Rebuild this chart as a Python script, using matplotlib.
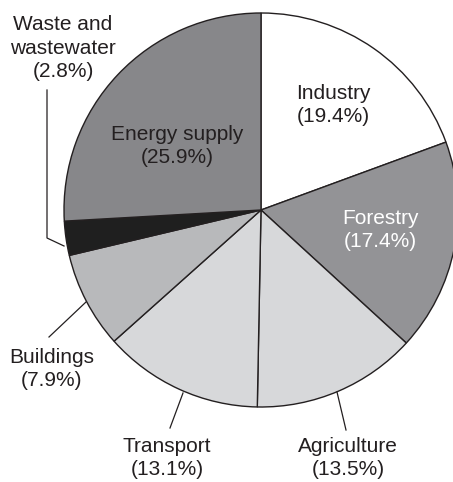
import matplotlib
matplotlib.use("Agg")
import matplotlib.pyplot as plt

categories = ["Industry", "Forestry", "Agriculture", "Transport", "Buildings",
              "Waste and\nwastewater", "Energy supply"]
shares = [19.4, 17.4, 13.5, 13.1, 7.9, 2.8, 25.9]
colors = ["#ffffff", "#939396", "#d7d8da", "#d7d8da", "#b8b9bb", "#1f1f1f", "#87878a"]

W, H = 453, 482
fig = plt.figure(figsize=(W / 100, H / 100), dpi=100)
ax = fig.add_axes([0, 0, 1, 1])
ax.set_xlim(0, W)
ax.set_ylim(0, H)
ax.set_aspect("equal")
ax.axis("off")

def Y(y):
    return H - y

cx, cy, r = 261, Y(210), 197
ax.pie(shares, colors=colors, startangle=90, counterclock=False,
       center=(cx, cy), radius=r,
       wedgeprops=dict(edgecolor="#231f20", linewidth=1.0))
ax.set_xlim(0, W)
ax.set_ylim(0, H)

plt.rcParams['font.family'] = ['Liberation Sans', 'DejaVu Sans']
fs = 15
tc = "#231f20"

def lab(i, x, y, color=tc):
    ax.text(x, Y(y), f"{categories[i]}\n({shares[i]}%)", ha="center", va="center",
            fontsize=fs, color=color, linespacing=1.3, multialignment="center")

lab(0, 333, 105)
lab(1, 380, 230, color="white")
lab(6, 177, 146)
lab(5, 63, 48)
lab(4, 52, 369)
lab(3, 167, 458)
lab(2, 348, 458)

def leader(pts):
    ax.plot([p[0] for p in pts], [Y(p[1]) for p in pts], color=tc, lw=0.9)

leader([(47, 90), (47, 238), (64, 246)])
leader([(49, 337), (86, 302)])
leader([(170, 428), (183, 393)])
leader([(346, 430), (337, 392)])

fig.savefig("out.png", dpi=100)
